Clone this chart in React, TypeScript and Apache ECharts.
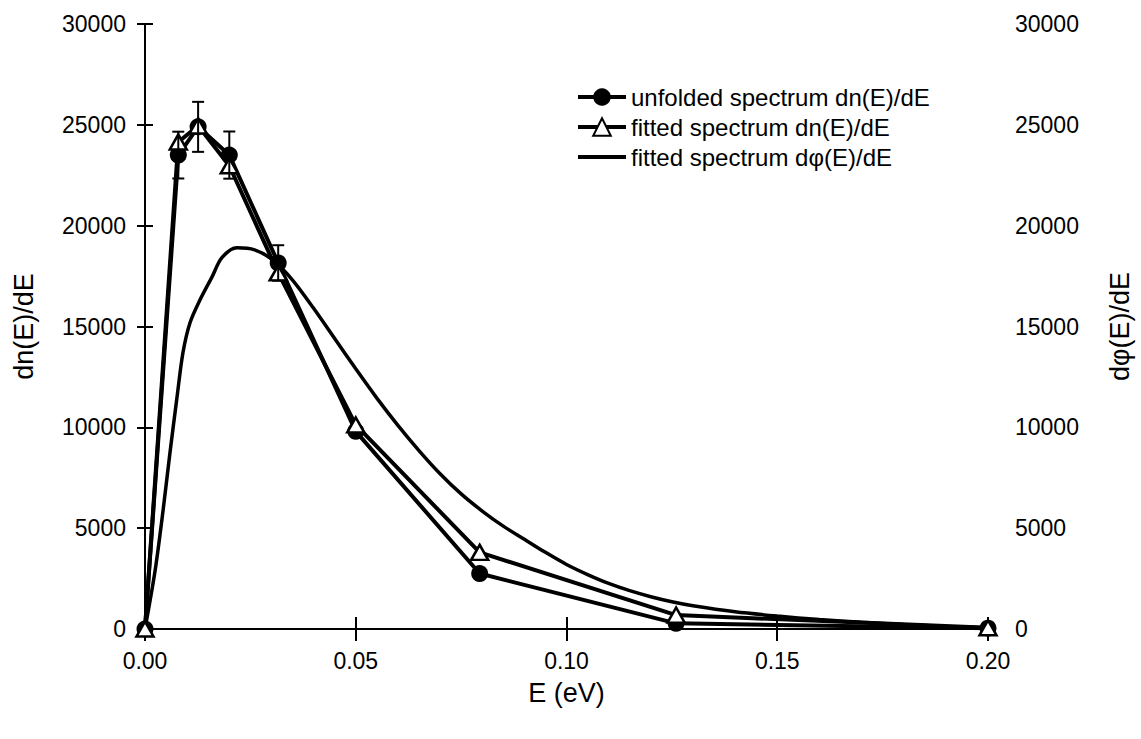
import React, { useEffect, useRef } from "react";
import * as echarts from "echarts";

// Energies (eV) of the unfolded / fitted points
const energies = [0, 0.0079, 0.0126, 0.02, 0.0316, 0.05, 0.0794, 0.126, 0.2];
// unfolded spectrum dn(E)/dE (filled circles)
const unfolded = [0, 23500, 24900, 23500, 18150, 9800, 2750, 280, 40];
// error bars (half-width) on the unfolded points
const unfoldedErr = [0, 1160, 1240, 1170, 880, 0, 0, 0, 0];
// fitted spectrum dn(E)/dE (open triangles)
const fittedN = [0, 24150, 24950, 22970, 17660, 10120, 3800, 690, 60];
// fitted spectrum dphi(E)/dE (smooth curve)
const phiE = [0, 0.0024, 0.0043, 0.0059, 0.0076, 0.009, 0.0107, 0.013, 0.016, 0.0182, 0.0218, 0.026, 0.0303, 0.035, 0.04, 0.045, 0.05, 0.055, 0.06, 0.065, 0.07, 0.075, 0.08, 0.085, 0.09, 0.095, 0.1, 0.105, 0.11, 0.115, 0.12, 0.125, 0.13, 0.14, 0.15, 0.16, 0.17, 0.18, 0.19, 0.2];
const phiV = [0, 2900, 5900, 8700, 11500, 13700, 15200, 16300, 17500, 18400, 18900, 18800, 18300, 17300, 15900, 14400, 12900, 11450, 10100, 8850, 7700, 6700, 5850, 5100, 4450, 3800, 3200, 2700, 2260, 1900, 1600, 1350, 1150, 850, 640, 470, 330, 220, 130, 60];

const names = [
  "unfolded spectrum dn(E)/dE",
  "fitted spectrum dn(E)/dE",
  "fitted spectrum dφ(E)/dE",
];

const FONT = "'Liberation Sans', Arial, Helvetica, sans-serif";

export default function App() {
  const ref = useRef<HTMLDivElement>(null);
  useEffect(() => {
    if (!ref.current) return;
    const chart = echarts.init(ref.current, null, { renderer: "svg" });
    const black = "#000";
    const axisCommon = {
      axisLine: { show: true, lineStyle: { color: black, width: 2 } },
      splitLine: { show: false },
    };
    const errData = energies
      .map((e, i) => [e, unfolded[i], unfolded[i] - unfoldedErr[i], unfolded[i] + unfoldedErr[i], unfoldedErr[i]])
      .filter((d) => d[4] > 0);
    chart.setOption({
      animation: false,
      backgroundColor: "#fff",
      textStyle: { fontFamily: FONT, color: black },
      grid: { left: 145, right: 150, top: 24, bottom: 110 },
      legend: {
        data: [
          { name: names[0] },
          { name: names[1] },
          { name: names[2], icon: "path://M0,0H48V4H0Z", itemStyle: { color: black } },
        ],
        orient: "vertical",
        left: 571,
        top: 80,
        itemWidth: 48,
        itemHeight: 22,
        itemGap: 6,
        symbolKeepAspect: true,
        lineStyle: { width: 4 },
        textStyle: { fontFamily: FONT, fontSize: 24, color: black },
      },
      xAxis: [
        {
          type: "value",
          position: "bottom",
          min: 0,
          max: 0.2,
          interval: 0.05,
          name: "E (eV)",
          nameLocation: "middle",
          nameGap: 50,
          nameTextStyle: { fontFamily: FONT, fontSize: 27, color: black },
          axisTick: { show: true, inside: false, length: 12, lineStyle: { color: black, width: 2 } },
          axisLabel: { fontFamily: FONT, fontSize: 23, color: black, margin: 20, formatter: (v: number) => v.toFixed(2) },
          ...axisCommon,
        },
        {
          type: "value",
          position: "top",
          min: 0,
          max: 0.2,
          interval: 0.05,
          axisTick: { show: true, inside: false, length: 12, lineStyle: { color: black, width: 2 } },
          axisLabel: { show: false },
          ...axisCommon,
        },
      ],
      yAxis: [
        {
          type: "value",
          position: "left",
          min: 0,
          max: 30000,
          interval: 5000,
          name: "dn(E)/dE",
          nameLocation: "middle",
          nameGap: 108,
          nameTextStyle: { fontFamily: FONT, fontSize: 27, color: black },
          axisTick: { show: true, inside: false, length: 8, lineStyle: { color: black, width: 2 } },
          axisLabel: { fontFamily: FONT, fontSize: 23, color: black, margin: 19, formatter: (v: number) => String(v) },
          ...axisCommon,
        },
        {
          type: "value",
          position: "right",
          min: 0,
          max: 30000,
          interval: 5000,
          name: "dφ(E)/dE",
          nameLocation: "middle",
          nameGap: 118,
          nameRotate: 90,
          nameTextStyle: { fontFamily: FONT, fontSize: 27, color: black },
          axisTick: { show: true, inside: false, length: 8, lineStyle: { color: black, width: 2 } },
          axisLabel: { fontFamily: FONT, fontSize: 23, color: black, margin: 27, formatter: (v: number) => String(v) },
          ...axisCommon,
        },
      ],
      series: [
        {
          name: names[2],
          type: "line",
          xAxisIndex: 0,
          yAxisIndex: 1,
          data: phiE.map((e, i) => [e, phiV[i]]),
          smooth: 0.3,
          symbol: "none",
          lineStyle: { color: black, width: 3.5 },
          itemStyle: { color: black },
          z: 2,
        },
        {
          name: names[0],
          type: "line",
          xAxisIndex: 0,
          yAxisIndex: 0,
          data: energies.map((e, i) => [e, unfolded[i]]),
          symbol: "circle",
          symbolSize: 17,
          lineStyle: { color: black, width: 4 },
          itemStyle: { color: black, borderColor: black, borderWidth: 0 },
          clip: false,
          z: 3,
        },
        {
          name: names[1],
          type: "line",
          xAxisIndex: 0,
          yAxisIndex: 0,
          data: energies.map((e, i) => [e, fittedN[i]]),
          symbol: "triangle",
          symbolSize: [17, 15],
          lineStyle: { color: black, width: 4 },
          itemStyle: { color: "#fff", borderColor: black, borderWidth: 2.5 },
          clip: false,
          z: 4,
        },
        {
          name: "err",
          type: "custom",
          xAxisIndex: 0,
          yAxisIndex: 0,
          data: errData,
          encode: { x: 0, y: [1, 2, 3] },
          z: 5,
          renderItem: (params: any, api: any) => {
            const x = api.value(0);
            const lo = api.coord([x, api.value(2)]);
            const hi = api.coord([x, api.value(3)]);
            const cap = 6;
            const st = { stroke: black, lineWidth: 2 };
            return {
              type: "group",
              children: [
                { type: "line", shape: { x1: lo[0], y1: lo[1], x2: hi[0], y2: hi[1] }, style: st },
                { type: "line", shape: { x1: hi[0] - cap, y1: hi[1], x2: hi[0] + cap, y2: hi[1] }, style: st },
                { type: "line", shape: { x1: lo[0] - cap, y1: lo[1], x2: lo[0] + cap, y2: lo[1] }, style: st },
              ],
            };
          },
        },
      ],
    });
    return () => chart.dispose();
  }, []);
  return (
    <div
      ref={ref}
      style={{ position: "fixed", left: 0, top: 0, width: 1141, height: 739, background: "#fff" }}
    />
  );
}
